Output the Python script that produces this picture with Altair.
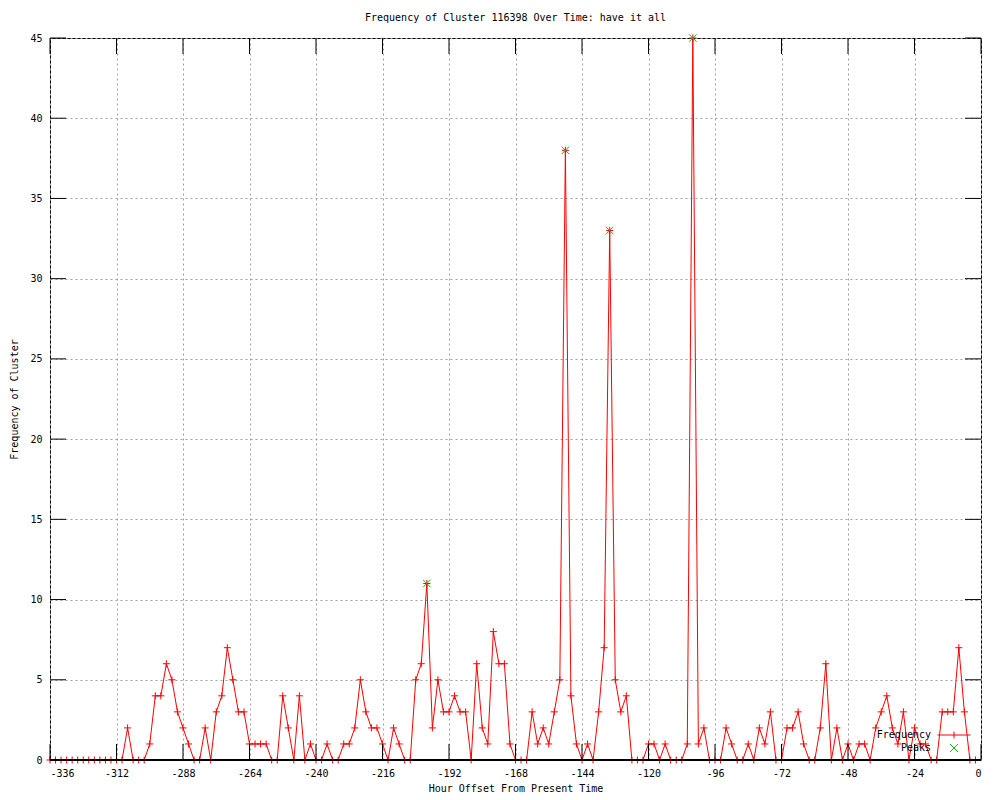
import altair as alt
import pandas as pd

MONO = "DejaVu Sans Mono"

# x positions (hours) and cluster frequency, one value every 2 hours
hours = list(range(-336, 0, 2))
freq = [
    0, 0, 0, 0, 0, 0, 0, 0, 0, 0, 0, 0,        # -336 .. -314
    0, 0, 2, 0, 0, 0, 1, 4, 4, 6, 5, 3,        # -312 .. -290
    2, 1, 0, 0, 2, 0, 3, 4, 7, 5, 3, 3,        # -288 .. -266
    1, 1, 1, 1, 0, 0, 4, 2, 0, 4, 0, 1,        # -264 .. -242
    0, 0, 1, 0, 0, 1, 1, 2, 5, 3, 2, 2,        # -240 .. -218
    1, 0, 2, 1, 0, 0, 5, 6, 11, 2, 5, 3,       # -216 .. -194
    3, 4, 3, 3, 0, 6, 2, 1, 8, 6, 6, 1,        # -192 .. -170
    0, 0, 0, 3, 1, 2, 1, 3, 5, 38, 4, 1,       # -168 .. -146
    0, 1, 0, 3, 7, 33, 5, 3, 4, 0, 0, 0,       # -144 .. -122
    1, 1, 0, 1, 0, 0, 0, 1, 45, 1, 2, 0,       # -120 .. -98
    0, 0, 2, 1, 0, 0, 1, 0, 2, 1, 3, 0,        # -96 .. -74
    0, 2, 2, 3, 1, 0, 0, 2, 6, 0, 2, 0,        # -72 .. -50
    1, 0, 1, 1, 0, 2, 3, 4, 2, 1, 3, 0,        # -48 .. -26
    2, 1, 1, 0, 0, 3, 3, 3, 7, 3, 0, 0,        # -24 .. -2
]

peak_hours = [-200, -150, -134, -104]
peak_values = [11, 38, 33, 45]

x_ticks = [-336, -312, -288, -264, -240, -216, -192, -168, -144, -120, -96, -72, -48, -24, 0]
y_ticks = [0, 5, 10, 15, 20, 25, 30, 35, 40, 45]

series_names = ["Frequency", "Peaks"]
series_colors = ["#ff0000", "#00c000"]

freq_df = pd.DataFrame({"hour": hours, "freq": freq, "series": "Frequency"})
peak_df = pd.DataFrame({"hour": peak_hours, "freq": peak_values, "series": "Peaks"})
xt_df = pd.DataFrame({"hour": x_ticks})
yt_df = pd.DataFrame({"freq": y_ticks})

PLUS = "M-1,0L1,0M0,-1L0,1"
XMARK = "M-1,-1L1,1M-1,1L1,-1"
LEG_LINE = "M-1,0L1,0M0,-0.21L0,0.21"
LEG_X = "M-0.24,-0.24L0.24,0.24M-0.24,0.24L0.24,-0.24"

W, H = 931, 722

x_scale = alt.Scale(domain=[-336, 0], nice=False, zero=False)
y_scale = alt.Scale(domain=[0, 45], nice=False, zero=False)

x = alt.X("hour:Q", scale=x_scale,
          axis=alt.Axis(values=x_ticks, title="Hour Offset From Present Time",
                        labelExpr="'' + datum.value", ticks=False, domain=False,
                        grid=True, labelPadding=8, titlePadding=5))
y = alt.Y("freq:Q", scale=y_scale,
          axis=alt.Axis(values=y_ticks, title="Frequency of Cluster",
                        labelExpr="'' + datum.value", ticks=False, domain=False,
                        grid=True, labelPadding=8, titlePadding=10))

common_legend = dict(
    orient="none", legendX=887, title=None, padding=0,
    symbolSize=1089, symbolStrokeWidth=1, symbolOpacity=1,
    symbolFillColor="transparent",
    labelAlign="right", labelOffset={"expr": "-40"},
    labelFont=MONO, labelFontSize=10, labelColor="black", labelBaseline="middle",
)
legend_freq = alt.Legend(legendY=680, symbolType=LEG_LINE, **common_legend)
legend_peak = alt.Legend(legendY=693, symbolStrokeColor=series_colors[1], **common_legend)

line = alt.Chart(freq_df).mark_line(strokeWidth=1, color=series_colors[0]).encode(x=x, y=y)
pts = alt.Chart(freq_df).mark_point(shape=PLUS, size=49, filled=False, strokeWidth=1, opacity=1,
                                    color=series_colors[0]).encode(x=x, y=y)
peaks = alt.Chart(peak_df).mark_point(shape=XMARK, size=56, filled=False, strokeWidth=1, opacity=1,
                                      color=series_colors[1]).encode(x=x, y=y)

# legend-only layer (draws no marks): one single-entry legend per series
legend_layer = alt.Chart(freq_df).transform_filter("false").mark_point(
    filled=False, strokeWidth=1, opacity=1).encode(
    x=x, y=y,
    color=alt.Color("series:N", scale=alt.Scale(domain=[series_names[0]], range=[series_colors[0]]),
                    legend=legend_freq),
    shape=alt.Shape("series:N", scale=alt.Scale(domain=[series_names[1]], range=[LEG_X]),
                    legend=legend_peak),
)

baseline = alt.Chart(xt_df).mark_rule(color="black", strokeWidth=1).encode(y=alt.datum(0))

tick_b = alt.Chart(xt_df).mark_rule(color="black").encode(x=x, y=alt.value(H), y2=alt.value(H - 16))
tick_t = alt.Chart(xt_df).mark_rule(color="black").encode(x=x, y=alt.value(0), y2=alt.value(16))
tick_l = alt.Chart(yt_df).mark_rule(color="black").encode(y=y, x=alt.value(0), x2=alt.value(16))
tick_r = alt.Chart(yt_df).mark_rule(color="black").encode(y=y, x=alt.value(W), x2=alt.value(W - 16))

chart = alt.layer(line, pts, peaks, legend_layer, baseline, tick_b, tick_t, tick_l, tick_r).properties(
    width=W, height=H,
    title=alt.Title("Frequency of Cluster 116398 Over Time: have it all", font=MONO, fontSize=10,
                    fontWeight="normal", color="black", offset=9),
    autosize=alt.AutoSizeParams(type="none"),
    padding={"left": 42, "top": 30, "right": 11, "bottom": 32},
).configure(background="white").configure_view(stroke="black", strokeWidth=1).configure_axis(
    labelFont=MONO, titleFont=MONO, labelFontSize=10, titleFontSize=10,
    titleFontWeight="normal", labelColor="black", titleColor="black",
    gridColor="#a0a0a0", gridDash=[2, 3], gridOpacity=1, gridWidth=1,
)

chart.save("out.html", embed_options={"renderer": "svg", "actions": False})
